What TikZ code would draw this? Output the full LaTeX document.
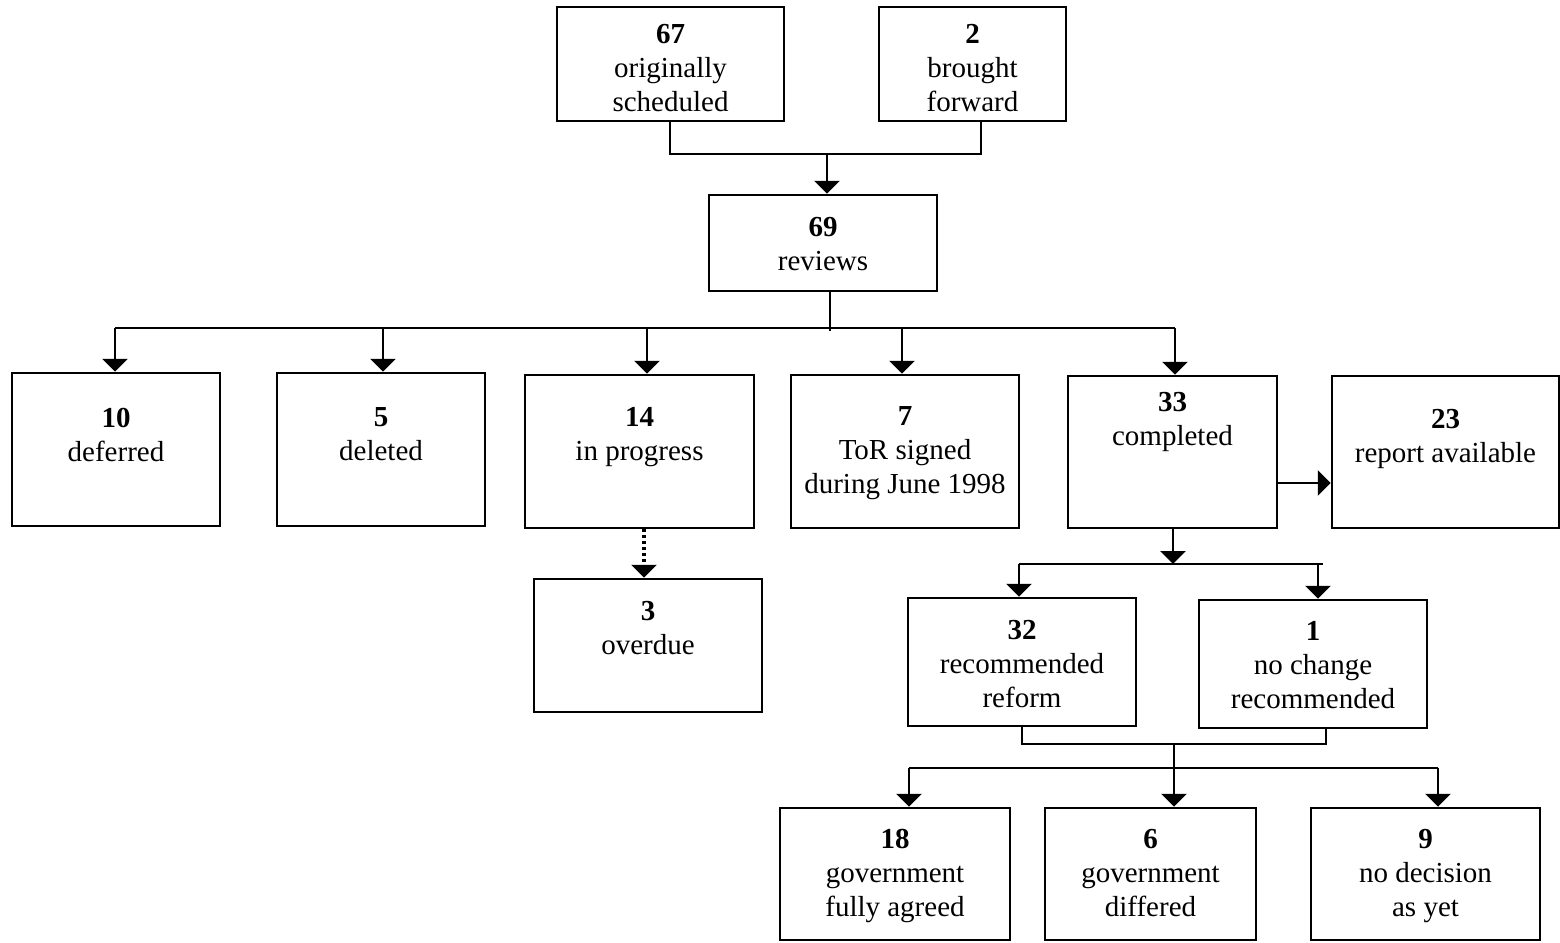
\documentclass[tikz,border=0pt]{standalone}
\usepackage{fontspec}
\setmainfont{Liberation Serif}
\usetikzlibrary{arrows.meta}

\tikzset{
  box/.style={draw, line width=2.5pt, inner sep=0pt},
  txt/.style={align=center, anchor=north, inner sep=0pt, font=\fontsize{29}{34}\selectfont},
  ln/.style={line width=2.4pt},
  arr/.style={line width=2.4pt, -{Triangle[width=25pt,length=13pt]}},
  dotarr/.style={line width=3.2pt, dash pattern=on 3pt off 3pt, -{Triangle[width=25pt,length=13pt]}},
}

\begin{document}
\begin{tikzpicture}[x=1pt,y=-1pt]
\useasboundingbox (0,0) rectangle (1560,942);

    % these are the boxes
    \node[box, minimum width=227pt, minimum height=114pt] (orig) at (670.5,64) {};
    \node[box, minimum width=187pt, minimum height=114pt] (fwd) at (972.5,64) {};
    \node[box, minimum width=228pt, minimum height=96pt] (reviews) at (823,243) {};
    \node[box, minimum width=208pt, minimum height=153pt] (deferred) at (116,449.5) {};
    \node[box, minimum width=208pt, minimum height=153pt] (deleted) at (381,449.5) {};
    \node[box, minimum width=229pt, minimum height=153pt] (prog) at (639.5,451.5) {};
    \node[box, minimum width=228pt, minimum height=153pt] (tor) at (905,451.5) {};
    \node[box, minimum width=209pt, minimum height=152pt] (done) at (1172.5,452) {};
    \node[box, minimum width=227pt, minimum height=152pt] (report) at (1445.5,452) {};
    \node[box, minimum width=228pt, minimum height=133pt] (overdue) at (648,645.5) {};
    \node[box, minimum width=228pt, minimum height=128pt] (reform) at (1022,662) {};
    \node[box, minimum width=228pt, minimum height=128pt] (nochange) at (1313,664) {};
    \node[box, minimum width=230pt, minimum height=132pt] (agreed) at (895,874) {};
    \node[box, minimum width=211pt, minimum height=132pt] (differed) at (1150.5,874) {};
    \node[box, minimum width=229pt, minimum height=132pt] (nodec) at (1425.5,874) {};

    % these are the texts
    \node[txt] (orig-t) at ([yshift=-18pt]orig.north) {\textbf{67}\\originally\\scheduled};
    \node[txt] (fwd-t) at ([yshift=-18pt]fwd.north) {\textbf{2}\\brought\\forward};
    \node[txt] (reviews-t) at ([yshift=-23pt]reviews.north) {\textbf{69}\\reviews};
    \node[txt] (deferred-t) at ([yshift=-36pt]deferred.north) {\textbf{10}\\deferred};
    \node[txt] (deleted-t) at ([yshift=-36pt]deleted.north) {\textbf{5}\\deleted};
    \node[txt] (prog-t) at ([yshift=-33pt]prog.north) {\textbf{14}\\in progress};
    \node[txt] (tor-t) at ([yshift=-33pt]tor.north) {\textbf{7}\\ToR signed\\during June 1998};
    \node[txt] (done-t) at ([yshift=-17pt]done.north) {\textbf{33}\\completed};
    \node[txt] (report-t) at ([yshift=-34pt]report.north) {\textbf{23}\\report available};
    \node[txt] (overdue-t) at ([yshift=-23pt]overdue.north) {\textbf{3}\\overdue};
    \node[txt] (reform-t) at ([yshift=-23pt]reform.north) {\textbf{32}\\recommended\\reform};
    \node[txt] (nochange-t) at ([yshift=-22pt]nochange.north) {\textbf{1}\\no change\\recommended};
    \node[txt] (agreed-t) at ([yshift=-22pt]agreed.north) {\textbf{18}\\government\\fully agreed};
    \node[txt] (differed-t) at ([yshift=-22pt]differed.north) {\textbf{6}\\government\\differed};
    \node[txt] (nodec-t) at ([yshift=-22pt]nodec.north) {\textbf{9}\\no decision\\as yet};

    % top bracket
    \coordinate (jl) at (670,154);
    \coordinate (jr) at (981,154);
    \coordinate (jm) at (827,154);
    \draw[ln] (orig.south -| jl) -- (jl) -- (jr) -- (fwd.south -| jr);
    \draw[arr] (jm) -- (jm |- reviews.north);

    % first bus
    \coordinate (b0) at (830,331);
    \coordinate (bl) at (115,328);
    \coordinate (br) at (1175,328);
    \draw[ln] (b0 |- reviews.south) -- (b0);
    \draw[ln] (bl) -- (br);
    \foreach \x/\n in {115/deferred,383/deleted,647/prog,902/tor,1175/done}
        \draw[arr] (\x,328) -- (\x,328 |- \n.north);

    \draw[dotarr] (644,0 |- prog.south) -- (644,0 |- overdue.north);
    \draw[arr] (done.east |- 0,483) -- (report.west |- 0,483);

    % second bus
    \coordinate (c0) at (1173,564);
    \coordinate (cl) at (1019,564);
    \coordinate (cr) at (1323,564);
    \draw[arr] (c0 |- done.south) -- (c0);
    \draw[ln] (cl) -- (cr);
    \draw[arr] (cl) -- (cl |- reform.north);
    \draw[arr] (1318,564) -- (1318,0 |- nochange.north);

    % bottom bracket and third bus
    \coordinate (kl) at (1022,744);
    \coordinate (kr) at (1326,744);
    \coordinate (km) at (1174,744);
    \draw[ln] (reform.south -| kl) -- (kl) -- (kr) -- (nochange.south -| kr);
    \draw[ln] (km) -- (1174,768);
    \draw[ln] (909,768) -- (1438,768);
    \foreach \x/\n in {909/agreed,1174/differed,1438/nodec}
        \draw[arr] (\x,768) -- (\x,768 |- \n.north);

\end{tikzpicture}
\end{document}
